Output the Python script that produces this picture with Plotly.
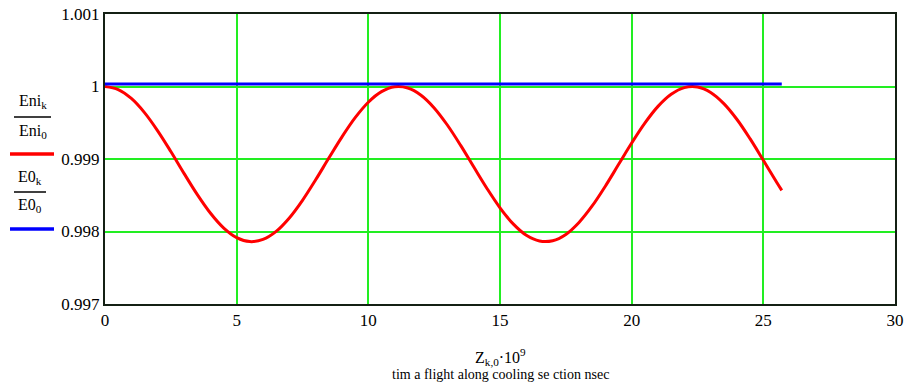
import plotly.graph_objects as go

# ---- data ----
t_nsec = [0, 0.5, 1.0, 1.5, 2.0, 2.5, 3.0, 3.5, 4.0, 4.5, 5.0, 5.5, 6.0, 6.5, 7.0, 7.5,
          8.0, 8.5, 9.0, 9.5, 10.0, 10.5, 11.0, 11.5, 12.0, 12.5, 13.0, 13.5, 14.0,
          14.5, 15.0, 15.5, 16.0, 16.5, 17.0, 17.5, 18.0, 18.5, 19.0, 19.5, 20.0,
          20.5, 21.0, 21.5, 22.0, 22.5, 23.0, 23.5, 24.0, 24.5, 25.0, 25.5, 25.7]
eni_ratio = [1.000000, 0.999958, 0.999835, 0.999640, 0.999389, 0.999103, 0.998802,
             0.998512, 0.998255, 0.998051, 0.997916, 0.997861, 0.997891, 0.998002,
             0.998187, 0.998430, 0.998713, 0.999013, 0.999306, 0.999570, 0.999783,
             0.999929, 0.999996, 0.999979, 0.999880, 0.999705, 0.999469, 0.999191,
             0.998892, 0.998597, 0.998327, 0.998105, 0.997948, 0.997869, 0.997873,
             0.997960, 0.998125, 0.998352, 0.998625, 0.998923, 0.999220, 0.999495,
             0.999726, 0.999893, 0.999985, 0.999993, 0.999918, 0.999764, 0.999545,
             0.999277, 0.998982, 0.998683, 0.998568]
e0_t = [0, 25.7]
e0_ratio = [1.000035, 1.000035]

x_ticks = [0, 5, 10, 15, 20, 25, 30]
y_ticks = [0.997, 0.998, 0.999, 1.0, 1.001]
y_tick_text = ["0.997", "0.998", "0.999", "1", "1.001"]

W, H = 922, 384
L, R, T, B = 105, 27, 14, 80
FONT = "Liberation Serif"

def px(x):
    return (x - L) / (W - L - R)

def py(y):
    return 1 - (y - T) / (H - T - B)

fig = go.Figure()
fig.add_trace(go.Scatter(x=t_nsec, y=eni_ratio, mode="lines",
                         line=dict(color="#ff0000", width=3, shape="spline"),
                         showlegend=False))
fig.add_trace(go.Scatter(x=e0_t, y=e0_ratio, mode="lines",
                         line=dict(color="#0000ff", width=3), showlegend=False))

fig.update_layout(
    width=W, height=H,
    margin=dict(l=L, r=R, t=T, b=B, pad=0),
    paper_bgcolor="white", plot_bgcolor="white",
    font=dict(family=FONT, size=16, color="black"),
    xaxis=dict(range=[0, 30], tickvals=x_ticks, showgrid=True, gridcolor="#22ee22",
               gridwidth=1.5, zeroline=False, showline=True, mirror=True,
               linecolor="#142014", linewidth=2, ticks="", ticklen=0, automargin=False,
               tickfont=dict(size=17, family=FONT)),
    yaxis=dict(range=[0.997, 1.001], tickvals=y_ticks, ticktext=y_tick_text,
               showgrid=True, gridcolor="#22ee22", gridwidth=1.5, zeroline=False,
               showline=True, mirror=True, linecolor="#142014", linewidth=2,
               ticks="", ticklen=0, automargin=False, tickfont=dict(size=17, family=FONT)),
)

annos = [
    dict(x=px(500), y=py(357), text="Z<sub>k,0</sub>·10<sup>9</sup>", font_size=16),
    dict(x=px(500), y=py(374), text="tim a flight along cooling se ction nsec", font_size=14),
    dict(x=px(33), y=py(102), text="Eni<sub>k</sub>", font_size=16),
    dict(x=px(33), y=py(131), text="Eni<sub>0</sub>", font_size=16),
    dict(x=px(30), y=py(177), text="E0<sub>k</sub>", font_size=16),
    dict(x=px(30), y=py(205), text="E0<sub>0</sub>", font_size=16),
]
for a in annos:
    fig.add_annotation(xref="paper", yref="paper", showarrow=False,
                       xanchor="center", yanchor="middle",
                       x=a["x"], y=a["y"], text=a["text"],
                       font=dict(family=FONT, size=a["font_size"], color="black"))

shapes = [
    (14, 117, 51, 117, "black", 1.5),
    (14, 192, 46, 192, "black", 1.5),
    (10, 154, 54, 154, "#ff0000", 3.5),
    (10, 229, 54, 229, "#0000ff", 3.5),
]
for x0, y0, x1, y1, c, w in shapes:
    fig.add_shape(type="line", xref="paper", yref="paper",
                  x0=px(x0), y0=py(y0), x1=px(x1), y1=py(y1),
                  line=dict(color=c, width=w))

fig.write_html("out.html")
